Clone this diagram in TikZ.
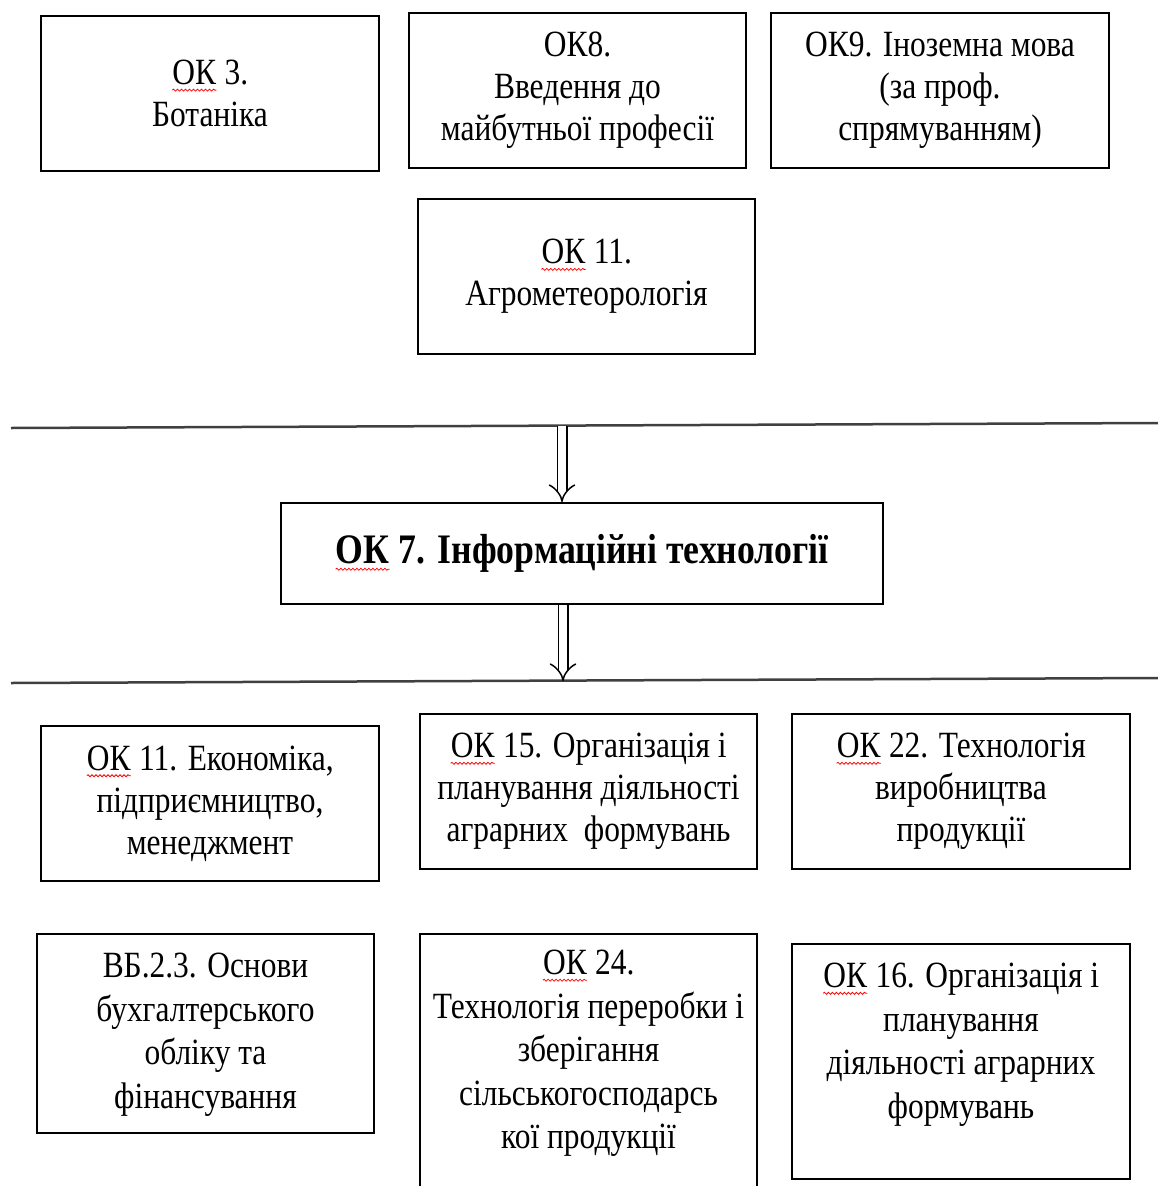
\documentclass[tikz,border=0pt]{standalone}
\usepackage{fontspec}
\setmainfont{Liberation Serif}[FakeStretch=0.85]
\usetikzlibrary{arrows.meta,decorations.pathmorphing,positioning}
\tikzset{
  course/.style={
    draw,
    line width=2pt,
    anchor=north west,
    inner sep=0pt,
    align=center,
    font=\fontsize{37}{42}\selectfont
  },
  coursetext/.style={
    inner sep=0pt,
    anchor=north,
    align=center,
    font=\fontsize{37}{43.5}\selectfont
  },
  divider/.style={
    line width=2.5pt,
    draw=black!75
  },
  flow/.style={
    double,
    double distance=8pt,
    line width=1.5pt,
    -{Implies}
  },
}
\newcommand{\spellmark}[1]{\tikz[baseline=(w.base)]{\node[draw=none,inner sep=0pt,minimum width=0pt,minimum height=0pt,anchor=base] (w) at (0,0) {#1};
  \draw[red,line width=0.8pt,decorate,decoration={snake,amplitude=1pt,segment length=4pt}]
    ([yshift=-5pt]w.south west) -- ([yshift=-5pt]w.south east);}}

\begin{document}
\begin{tikzpicture}[x=1pt,y=-1pt]
  \useasboundingbox (0,0) rectangle (1158,1186);
  % upper courses
  \node[course,minimum width=338pt,minimum height=155pt] (ok3) at (40,15) {\spellmark{ОК} 3.\\Ботаніка};
  \node[course,minimum width=337pt,minimum height=155pt] (ok8) at (408,12) {ОК8.\\Введення до\\майбутньої професії};
  \node[course,minimum width=338pt,minimum height=155pt] (ok9) at (770,12) {ОК9. Іноземна мова\\(за проф.\\спрямуванням)};
  \node[course,minimum width=337pt,minimum height=155pt] (ok11a) at (417,198) {\spellmark{ОК} 11.\\Агрометеорологія};
  % dividers
  \coordinate (l1w) at (11,428);
  \coordinate (l1e) at (1158,423);
  \coordinate (l2w) at (11,683);
  \coordinate (l2e) at (1158,678);
  \draw[divider] (l1w) -- (l1e);
  \draw[divider] (l2w) -- (l2e);
  % main course
  \node[course,minimum width=602pt,minimum height=101pt,font=\bfseries\fontsize{42}{46}\selectfont] (ok7) at (280,502) {\spellmark{ОК} 7. Інформаційні технології};
  \coordinate (a1) at (562,426);
  \coordinate (a2) at (563,681);
  \draw[flow] (a1) -- (a1 |- ok7.north);
  \draw[flow] (ok7.south -| a2) -- (a2);
  % lower courses
  \node[course,minimum width=338pt,minimum height=155pt] (ok11b) at (40,725) {\spellmark{ОК} 11. Економіка,\\підприємництво,\\менеджмент};
  \node[course,minimum width=337pt,minimum height=155pt] (ok15) at (419,713) {\spellmark{ОК} 15. Організація і\\планування діяльності\\аграрних~ формувань};
  \node[course,minimum width=338pt,minimum height=155pt] (ok22) at (791,713) {\spellmark{ОК} 22. Технологія\\виробництва\\продукції};
  \node[course,minimum width=337pt,minimum height=199pt] (vb23) at (36,933) {};
  \node[coursetext] (vb23t) at ([yshift=-20pt]vb23.north) {ВБ.2.3. Основи\\бухгалтерського\\обліку та\\фінансування};
  \node[course,minimum width=337pt,minimum height=267pt] (ok24) at (419,933) {};
  \node[coursetext] (ok24t) at ([yshift=-17pt]ok24.north) {\spellmark{ОК} 24.\\Технологія переробки і\\зберігання\\сільськогосподарсь\\кої продукції};
  \node[course,minimum width=338pt,minimum height=235pt] (ok16) at (791,943) {};
  \node[coursetext] (ok16t) at ([yshift=-20pt]ok16.north) {\spellmark{ОК} 16. Організація і\\планування\\діяльності аграрних\\формувань};
\end{tikzpicture}
\end{document}
